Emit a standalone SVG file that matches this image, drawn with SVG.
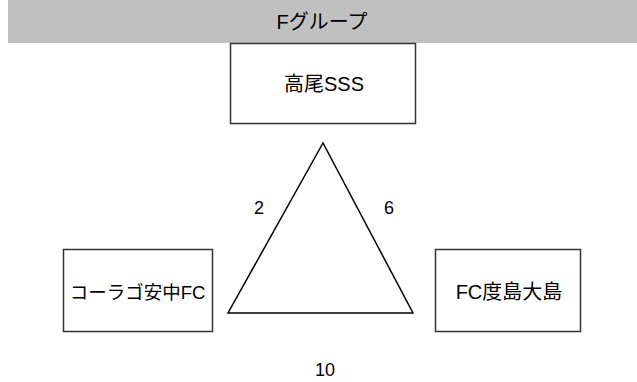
<svg xmlns="http://www.w3.org/2000/svg" width="637" height="382" viewBox="0 0 637 382">
<style>
text{font-family:"Liberation Sans","Noto Sans CJK JP",sans-serif;fill:#000;text-anchor:middle;dominant-baseline:central}
.box{fill:#fff;stroke:#333;stroke-width:1.5}
.t{font-size:20px}
.n{font-size:18px}
</style>
<rect x="8" y="0" width="629" height="43" fill="#c0c0c0"/>
<text class="t" x="322" y="22">Fグループ</text>
<g id="top"><rect class="box" x="230.5" y="43.5" width="185" height="80"/><text class="t" x="324" y="84">高尾SSS</text></g>
<g id="left"><rect class="box" x="63.5" y="249.5" width="149" height="82"/><text class="t" x="137.5" y="292" style="font-size:18.5px">コーラゴ安中FC</text></g>
<g id="right"><rect class="box" x="435.5" y="249.5" width="145" height="82"/><text class="t" x="509" y="292">FC度島大島</text></g>
<g id="connectors"><polygon points="323,143 228,313 413,313" fill="none" stroke="#000" stroke-width="1.5"/></g>
<text class="n" x="259" y="208">2</text>
<text class="n" x="389" y="208">6</text>
<text class="n" x="325" y="370">10</text>
</svg>
